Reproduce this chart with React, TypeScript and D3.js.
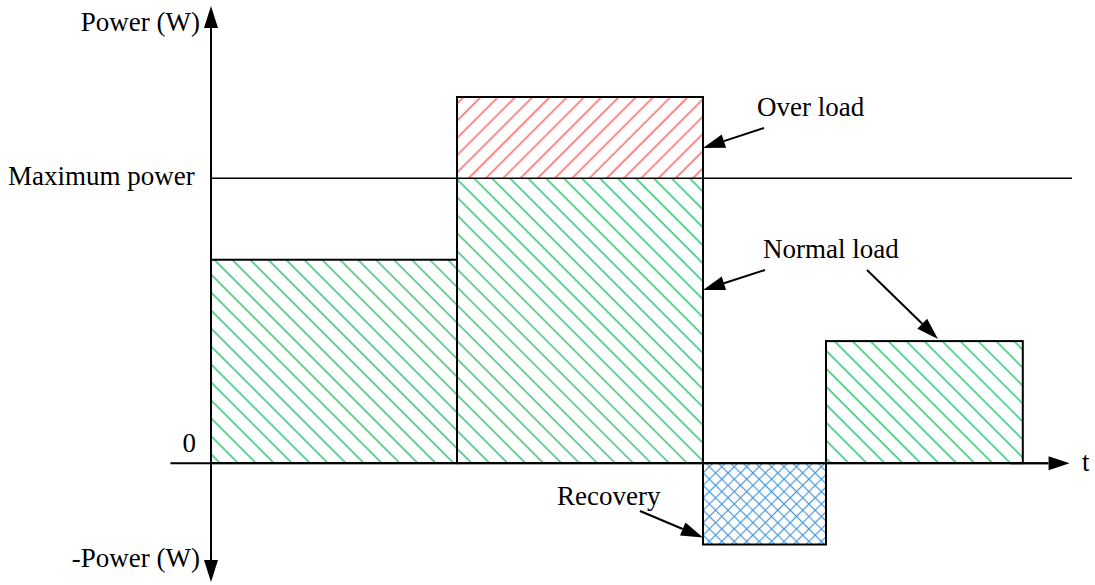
import React from "react";
import * as d3 from "d3";

const WIDTH = 1095;
const HEIGHT = 585;

// time breakpoints of the load profile and the power in each interval
const times = [0, 2, 4, 5, 6.6];
const loads = [5, 9, -2, 3];
const maxPower = 7;

const yLabelTop = "Power (W)";
const yLabelBottom = "-Power (W)";
const maxLabel = "Maximum power";
const zeroLabel = "0";
const xLabel = "t";
const annotations = ["Over load", "Normal load", "Recovery"];

const FONT = "'Liberation Serif', 'Times New Roman', serif";

const x = d3.scaleLinear().domain([0, 7]).range([211, 1072]);
const y = d3.scaleLinear().domain([-2, 9]).range([544.5, 97]);

// filled arrow head + shaft from (x1,y1) to tip (x2,y2)
const Arrow = ({ x1, y1, x2, y2, len = 22, half = 7 }: any) => {
  const dx = x2 - x1, dy = y2 - y1;
  const d = Math.hypot(dx, dy);
  const ux = dx / d, uy = dy / d;
  const bx = x2 - ux * len, by = y2 - uy * len;
  const pts = [
    [x2, y2],
    [bx - uy * half, by + ux * half],
    [bx + uy * half, by - ux * half],
  ];
  return (
    <g>
      <line x1={x1} y1={y1} x2={bx} y2={by} stroke="#000" strokeWidth={2} />
      <polygon points={pts.map(p => p.join(",")).join(" ")} fill="#000" />
    </g>
  );
};

export default function App() {
  const y0 = y(0);
  const yMax = y(maxPower);
  const segs = loads.map((v, i) => ({ x0: x(times[i]), x1: x(times[i + 1]), v }));

  const overSeg = segs.find(s => s.v > maxPower)!;
  const recSeg = segs.find(s => s.v < 0)!;
  const lastSeg = segs[segs.length - 1];

  return (
    <div style={{ position: "absolute", left: 0, top: 0 }}>
      <svg width={WIDTH} height={HEIGHT} style={{ display: "block", background: "#fff" }}>
        <defs>
          <pattern id="green" patternUnits="userSpaceOnUse" width={12.7} height={12.7} patternTransform="rotate(-45)">
            <line x1={6} y1={-2} x2={6} y2={15} stroke="#3cc97b" strokeWidth={1.6} />
          </pattern>
          <pattern id="red" patternUnits="userSpaceOnUse" width={12.2} height={12.2} patternTransform="rotate(45)">
            <line x1={6} y1={-2} x2={6} y2={15} stroke="#ff6b6b" strokeWidth={1.6} />
          </pattern>
          <pattern id="blue" patternUnits="userSpaceOnUse" width={8.8} height={8.8} patternTransform="rotate(45)">
            <line x1={4.4} y1={-2} x2={4.4} y2={11} stroke="#4a98dc" strokeWidth={1.2} />
            <line x1={-2} y1={4.4} x2={11} y2={4.4} stroke="#4a98dc" strokeWidth={1.2} />
          </pattern>
        </defs>

        {/* hatched fills */}
        {segs.map((s, i) => {
          if (s.v >= 0) {
            const top = y(Math.min(s.v, maxPower));
            return (
              <g key={i}>
                <rect x={s.x0} y={top} width={s.x1 - s.x0} height={y0 - top} fill="url(#green)" />
                {s.v > maxPower && (
                  <rect x={s.x0} y={y(s.v)} width={s.x1 - s.x0} height={yMax - y(s.v)} fill="url(#red)" />
                )}
              </g>
            );
          }
          return <rect key={i} x={s.x0} y={y0} width={s.x1 - s.x0} height={y(s.v) - y0} fill="url(#blue)" />;
        })}

        {/* outlines */}
        {segs.map((s, i) => {
          const a = y(Math.max(s.v, 0)), b = y(Math.min(s.v, 0));
          return <rect key={"o" + i} x={s.x0} y={a} width={s.x1 - s.x0} height={b - a} fill="none" stroke="#000" strokeWidth={2} />;
        })}

        {/* maximum power line */}
        <line x1={x(0)} y1={yMax} x2={x(7)} y2={yMax} stroke="#000" strokeWidth={1.5} />

        {/* axes */}
        <line x1={x(-0.33)} y1={y0} x2={x(6.8)} y2={y0} stroke="#000" strokeWidth={2} />
        <Arrow x1={x(6.5)} y1={y0} x2={x(6.98)} y2={y0} len={21} half={7} />
        <line x1={x(0)} y1={y(-2.8)} x2={x(0)} y2={y(10.9)} stroke="#000" strokeWidth={2} />
        <Arrow x1={x(0)} y1={y(10)} x2={x(0)} y2={6} len={22} half={7} />
        <Arrow x1={x(0)} y1={y(-2)} x2={x(0)} y2={582} len={22} half={7} />

        {/* axis labels */}
        <g fontFamily={FONT} fontSize={27} fill="#000">
          <text x={200} y={31} textAnchor="end">{yLabelTop}</text>
          <text x={200} y={567} textAnchor="end">{yLabelBottom}</text>
          <text x={8} y={185}>{maxLabel}</text>
          <text x={196} y={452} textAnchor="end">{zeroLabel}</text>
          <text x={1082} y={471}>{xLabel}</text>

          {/* annotations */}
          <text x={overSeg.x1 + 54} y={116}>{annotations[0]}</text>
          <text x={overSeg.x1 + 60} y={258}>{annotations[1]}</text>
          <text x={recSeg.x0 - 146} y={505}>{annotations[2]}</text>
        </g>

        <Arrow x1={overSeg.x1 + 61} y1={128} x2={overSeg.x1} y2={148} len={22} half={7} />
        <Arrow x1={overSeg.x1 + 62} y1={270} x2={overSeg.x1} y2={290} len={22} half={7} />
        <Arrow x1={lastSeg.x0 + 41} y1={270} x2={lastSeg.x0 + 112} y2={y(lastSeg.v) - 2} len={22} half={7} />
        <Arrow x1={recSeg.x0 - 63} y1={511} x2={recSeg.x0} y2={y(recSeg.v) - 7} len={22} half={7} />
      </svg>
    </div>
  );
}
